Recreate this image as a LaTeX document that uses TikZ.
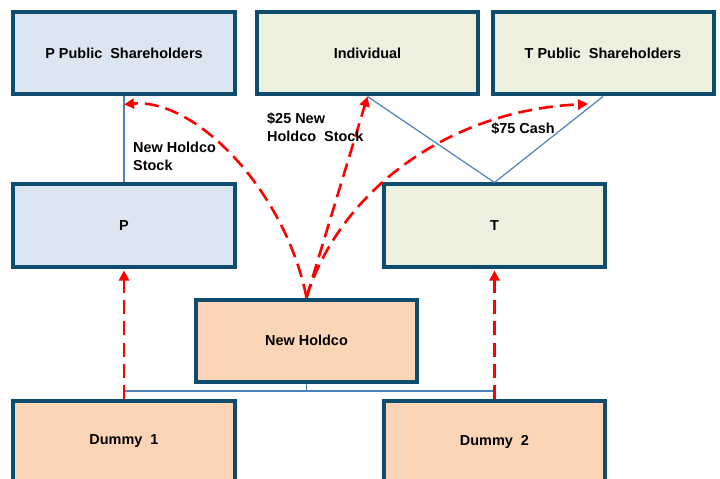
\documentclass[tikz,border=0pt]{standalone}
\usepackage{fontspec}
\setmainfont{Liberation Sans}
\usetikzlibrary{arrows.meta}

\definecolor{boxline}{RGB}{16,76,110}
\definecolor{pfill}{RGB}{220,230,242}
\definecolor{tfill}{RGB}{235,241,222}
\definecolor{hfill}{RGB}{251,213,181}
\definecolor{linkblue}{RGB}{79,129,189}

\tikzset{
  entity/.style={draw=boxline, line width=4bp, rectangle, inner sep=0pt,
    minimum width=221bp, minimum height=82bp, font=\fontsize{14.5}{18}\selectfont\bfseries},
  link/.style={draw=linkblue, line width=1.2bp},
  flow/.style={draw=red, line width=2.6bp, dash pattern=on 14bp off 7bp,
    -{Triangle[length=10bp,width=10bp]}},
  note/.style={inner sep=0pt, align=left, font=\fontsize{14.5}{18}\selectfont\bfseries}
}

\begin{document}
\begin{tikzpicture}[x=1bp, y=-1bp]
    \clip (0,0) rectangle (720,479);
    \fill[white] (0,0) rectangle (720,479);

    % Shareholders
    \node[entity, fill=pfill] (ppub)  at (124,53.5)  {P Public\ \ Shareholders};
    \node[entity, fill=tfill] (indiv) at (367.5,53.5) {Individual};
    \node[entity, fill=tfill] (tpub)  at (603,53.5)  {T Public\ \ Shareholders};

    % Companies
    \node[entity, fill=pfill] (p)      at (124,225.5)   {P};
    \node[entity, fill=tfill] (t)      at (494.5,225.5) {T};
    \node[entity, fill=hfill] (holdco) at (306.5,340.5) {New Holdco};
    \node[entity, fill=hfill] (dummy1) at (124,441.5)   {Dummy\ \ 1};
    \node[entity, fill=hfill] (dummy2) at (494.5,441.5) {Dummy\ \ 2};

    % Ownership lines
    \draw[link] (ppub.south) -- (p.north);
    \draw[link] (indiv.south) -- (t.north);
    \draw[link] (tpub.south) -- (t.north);
    \coordinate (bus) at (306.5,391);
    \draw[link] (holdco.south) -- (bus);
    \draw[link] (dummy1.north) |- (bus) -| (dummy2.north);

    % Mergers
    \draw[flow] (dummy1.north) -- ([yshift=-2bp]p.south);
    \draw[flow] (dummy2.north) -- ([yshift=-2bp]t.south);

    % Consideration
    \coordinate (ppubend) at ([yshift=-8bp]ppub.south);
    \coordinate (tpubend) at (588,104);
    \draw[flow] (holdco.north) .. controls (285,190) and (195,98) .. (ppubend);
    \draw[flow] (holdco.north) -- (indiv.south);
    \draw[flow] (holdco.north) .. controls (340,190) and (450,110) .. (tpubend);

    % Labels
    \node[note, anchor=north west] (lblstock) at (133,142) {New Holdco\\Stock};
    \node[note, anchor=north west] (lblindiv) at (267,113) {\$25 New\\Holdco\ \ Stock};
    \node[note] (lblcash) at (523,129) {\$75 Cash};
\end{tikzpicture}
\end{document}
